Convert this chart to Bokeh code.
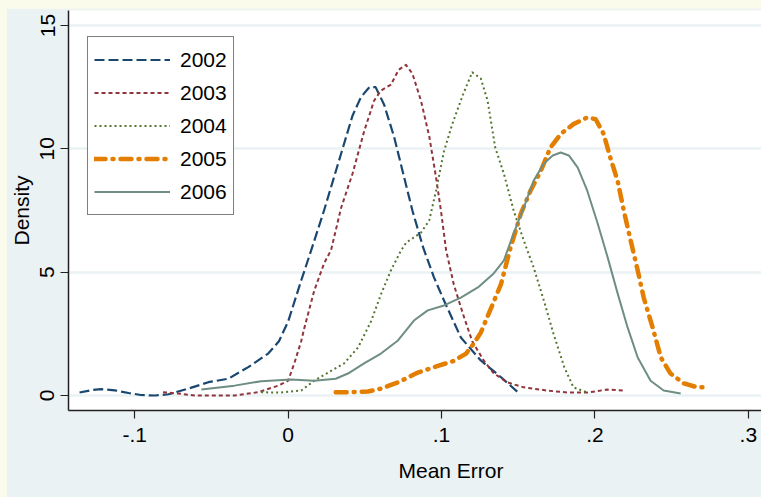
from bokeh.plotting import figure
from bokeh.models import Range1d, FixedTicker, Legend, LegendItem, Title
from bokeh.layouts import column
from bokeh.embed import file_html
from bokeh.resources import INLINE

# Kernel density estimates of the mean error, one curve per year
x2002 = [-0.136, -0.128, -0.122, -0.113, -0.104, -0.096, -0.087, -0.078, -0.065, -0.052,
         -0.039, -0.026, -0.013, -0.006, 0.0, 0.0085, 0.015, 0.0234, 0.0345, 0.042,
         0.0475, 0.053, 0.057, 0.0625, 0.069, 0.075, 0.081, 0.088, 0.095, 0.1016,
         0.1126, 0.1256, 0.139, 0.150]
y2002 = [0.12, 0.22, 0.26, 0.21, 0.10, 0.02, 0.0, 0.05, 0.28, 0.54,
         0.68, 1.15, 1.7, 2.2, 3.0, 4.66, 5.88, 7.5, 9.8, 11.35,
         12.1, 12.5, 12.5, 11.8, 10.5, 9.0, 7.5, 6.0, 4.8, 3.85,
         2.35, 1.42, 0.73, 0.12]

x2003 = [-0.0816, -0.0716, -0.061, -0.048, -0.035, -0.0197, -0.0065, 0.0, 0.004, 0.0085,
         0.0104, 0.017, 0.0234, 0.028, 0.0345, 0.042, 0.0495, 0.056, 0.0605, 0.067,
         0.072, 0.0768, 0.081, 0.0866, 0.092, 0.0964, 0.0996, 0.103, 0.108, 0.114,
         0.120, 0.1277, 0.134, 0.143, 0.1536, 0.169, 0.182, 0.195, 0.208, 0.219]
y2003 = [0.13, 0.08, 0.0, 0.0, 0.0, 0.13, 0.4, 0.6, 1.3, 2.2,
         2.7, 4.25, 5.35, 5.9, 7.6, 9.0, 10.7, 11.95, 12.36, 12.6,
         13.2, 13.4, 13.05, 11.95, 10.5, 8.85, 7.5, 5.88, 4.5, 3.3,
         2.2, 1.4, 0.9, 0.53, 0.33, 0.2, 0.12, 0.12, 0.24, 0.2]

x2004 = [-0.0176, -0.005, 0.0085, 0.017, 0.028, 0.0365, 0.0456, 0.054, 0.0605, 0.067,
         0.0736, 0.077, 0.0866, 0.092, 0.0964, 0.1016, 0.107, 0.114, 0.120, 0.1256,
         0.130, 0.135, 0.1406, 0.147, 0.1536, 0.160, 0.1667, 0.173, 0.180, 0.186,
         0.195]
y2004 = [0.13, 0.12, 0.2, 0.6, 1.0, 1.3, 1.95, 3.0, 4.1, 5.07,
         5.88, 6.2, 6.6, 7.1, 8.3, 9.9, 11.0, 12.2, 13.1, 12.85,
         11.96, 10.05, 9.0, 7.5, 6.28, 5.2, 3.85, 2.5, 1.15, 0.33,
         0.12]

x2005 = [0.031, 0.042, 0.052, 0.0605, 0.0716, 0.0846, 0.0976, 0.108, 0.116, 0.121,
         0.1256, 0.132, 0.1387, 0.145, 0.1517, 0.158, 0.1647, 0.171, 0.1777, 0.186,
         0.195, 0.2005, 0.2057, 0.210, 0.2148, 0.2188, 0.2233, 0.2279, 0.2318, 0.2376,
         0.243, 0.2493, 0.258, 0.267, 0.2708]
y2005 = [0.13, 0.14, 0.16, 0.28, 0.53, 0.93, 1.2, 1.4, 1.7, 2.1,
         2.55, 3.5, 4.5, 6.0, 7.37, 8.3, 9.1, 10.05, 10.6, 11.0,
         11.27, 11.2, 10.6, 9.65, 8.7, 7.5, 6.28, 5.07, 3.97, 2.76,
         1.54, 0.89, 0.49, 0.33, 0.33]

x2006 = [-0.0566, -0.035, -0.0176, 0.002, 0.017, 0.031, 0.039, 0.0495, 0.0605, 0.0716,
         0.082, 0.091, 0.1016, 0.1126, 0.1237, 0.134, 0.1406, 0.147, 0.1536, 0.160,
         0.1667, 0.1725, 0.1777, 0.183, 0.1888, 0.195, 0.2018, 0.2083, 0.2148, 0.2213,
         0.2279, 0.2363, 0.2448, 0.2559]
y2006 = [0.24, 0.4, 0.58, 0.65, 0.6, 0.68, 0.89, 1.3, 1.7, 2.23,
         3.04, 3.45, 3.65, 3.97, 4.38, 4.95, 5.47, 6.57, 7.62, 8.7,
         9.4, 9.73, 9.85, 9.73, 9.24, 8.3, 6.97, 5.6, 4.14, 2.76,
         1.54, 0.6, 0.2, 0.08]

years = ["2002", "2003", "2004", "2005", "2006"]
x_ticks = [-0.1, 0.0, 0.1, 0.2, 0.3]
x_tick_labels = ["-.1", "0", ".1", ".2", ".3"]
y_ticks = [0, 5, 10, 15]

FONT = "Liberation Sans"
FS = "21px"
BG = "#EAF2F3"

p = figure(width=755, height=489, output_backend="svg", toolbar_location=None,
           x_range=Range1d(-0.1432, 0.3086), y_range=Range1d(-0.608, 15.606),
           min_border_left=61, min_border_right=0, min_border_top=2, min_border_bottom=87)
p.background_fill_color = "white"
p.border_fill_color = BG
p.outline_line_color = None

# axes
p.xaxis.ticker = FixedTicker(ticks=x_ticks)
p.xaxis.major_label_overrides = {t: l for t, l in zip(x_ticks, x_tick_labels)}
p.yaxis.ticker = FixedTicker(ticks=y_ticks)
p.yaxis.major_label_orientation = "vertical"
for ax in (p.xaxis, p.yaxis):
    ax.axis_line_color = "#222222"
    ax.axis_line_width = 1.5
    ax.major_tick_line_color = "#222222"
    ax.major_tick_line_width = 1.2
    ax.major_tick_in = 0
    ax.major_tick_out = 8
    ax.minor_tick_line_color = None
    ax.major_label_text_font = FONT
    ax.major_label_text_font_size = FS
    ax.major_label_text_color = "black"
    ax.axis_label_text_font = FONT
    ax.axis_label_text_font_size = FS
    ax.axis_label_text_font_style = "normal"
    ax.axis_label_text_color = "black"
p.xaxis.major_label_standoff = 9
p.yaxis.major_label_standoff = 6
p.yaxis.axis_label = "Density"
p.yaxis.axis_label_standoff = 5

p.xgrid.grid_line_color = None
p.ygrid.grid_line_color = BG
p.ygrid.grid_line_width = 2.5

series = [
    (x2002, y2002, "#1A476F", 2.2, "10 4", "butt"),
    (x2003, y2003, "#90353B", 2.0, "4 3", "butt"),
    (x2004, y2004, "#55752F", 2.0, "2 3", "butt"),
    (x2005, y2005, "#E37E00", 4.5, "11 7 1 7", "round"),
    (x2006, y2006, "#6E8E84", 2.0, "solid", "butt"),
]
items = []
for (xs, ys, color, lw, dash, cap), year in zip(series, years):
    r = p.line(xs, ys, line_color=color, line_width=lw, line_dash=dash,
               line_cap=cap, line_join="round")
    items.append(LegendItem(label=year, renderers=[r]))

legend = Legend(items=items, location=(19, 195))
legend.label_text_font = FONT
legend.label_text_font_size = FS
legend.label_text_color = "black"
legend.glyph_width = 76
legend.glyph_height = 33
legend.label_height = 33
legend.label_standoff = 10
legend.spacing = 0
legend.padding = 6
legend.margin = 0
legend.border_line_color = "black"
legend.border_line_width = 1
legend.background_fill_color = "white"
legend.background_fill_alpha = 1
p.add_layout(legend, "center")

# x axis title, centred on the full plot region rather than the visible frame
p.add_layout(Title(text="Mean Error", align="left", offset=330, text_font=FONT,
                   text_font_size=FS, text_font_style="normal", text_color="black",
                   vertical_align="middle", standoff=26), "below")

page = column(p, styles={"background-color": "#FBFBEC", "padding-top": "8px",
                         "padding-left": "6px"})

open("out.html", "w").write(file_html(page, INLINE))
